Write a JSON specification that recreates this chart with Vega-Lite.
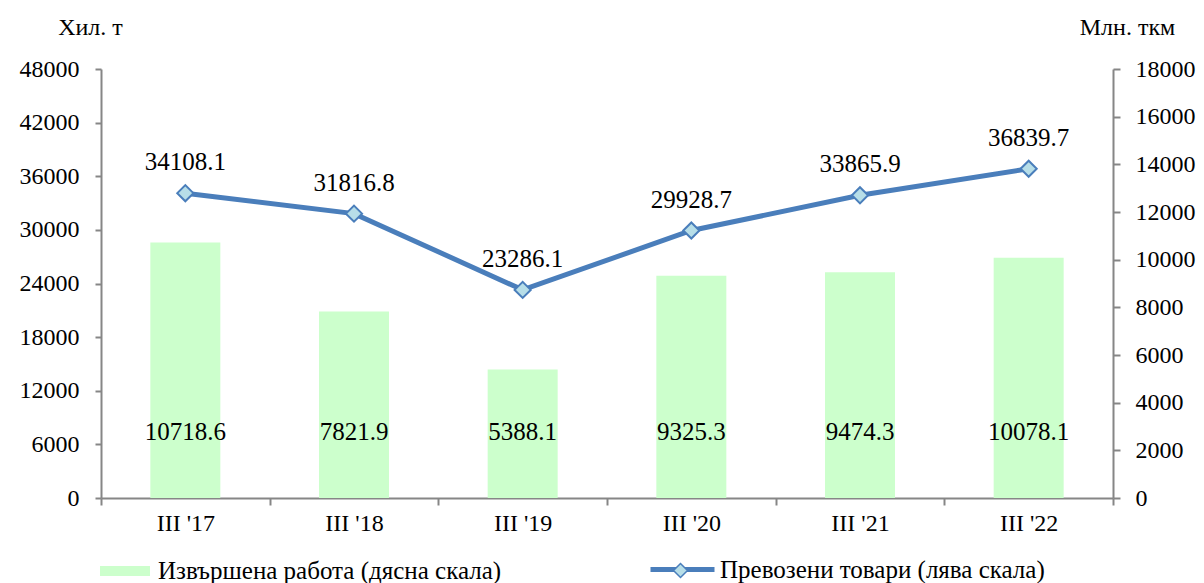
{
  "$schema": "https://vega.github.io/schema/vega-lite/v6.json",
  "autosize": "none",
  "width": 1012,
  "height": 429,
  "padding": {"left": 101, "top": 69, "right": 91, "bottom": 85},
  "background": "white",
  "config": {
    "view": {"stroke": null},
    "font": "Liberation Serif",
    "axis": {
      "labelFont": "Liberation Serif",
      "labelFontSize": 24,
      "labelColor": "black",
      "titleFont": "Liberation Serif",
      "titleFontSize": 24,
      "titleFontWeight": "normal",
      "titleColor": "black",
      "domainColor": "#868686",
      "domainWidth": 2,
      "tickColor": "#868686",
      "tickWidth": 2,
      "grid": false
    },
    "legend": {
      "labelFont": "Liberation Serif",
      "labelFontSize": 25,
      "labelColor": "black",
      "padding": 0,
      "labelLimit": 600
    }
  },
  "data": {
    "values": [
      {"q": "III '17", "goods": 34108.1, "work": 10718.6},
      {"q": "III '18", "goods": 31816.8, "work": 7821.9},
      {"q": "III '19", "goods": 23286.1, "work": 5388.1},
      {"q": "III '20", "goods": 29928.7, "work": 9325.3},
      {"q": "III '21", "goods": 33865.9, "work": 9474.3},
      {"q": "III '22", "goods": 36839.7, "work": 10078.1}
    ]
  },
  "encoding": {
    "x": {
      "field": "q",
      "type": "nominal",
      "sort": null,
      "scale": {"paddingInner": 0, "paddingOuter": 0},
      "axis": {
        "title": null,
        "labelAngle": 0,
        "tickBand": "extent",
        "tickSize": 7,
        "labelPadding": 6
      }
    }
  },
  "layer": [
    {
      "mark": {"type": "bar", "width": {"band": 0.415}},
      "encoding": {
        "y": {
          "field": "work",
          "type": "quantitative",
          "scale": {"domain": [0, 18000], "nice": false},
          "axis": {
            "orient": "right",
            "values": [0, 2000, 4000, 6000, 8000, 10000, 12000, 14000, 16000, 18000],
            "format": "d",
            "tickSize": 7,
            "labelPadding": 15,
            "title": "Млн. ткм",
            "titleAngle": 0,
            "titleAlign": "center",
            "titleBaseline": "middle",
            "titleX": 14,
            "titleY": -42
          }
        },
        "fill": {
          "datum": "Извършена работа (дясна скала)",
          "scale": {"range": ["#CCFFCC"]},
          "legend": {
            "title": null,
            "orient": "none",
            "legendX": -1,
            "legendY": 477,
            "symbolType": "M-1,-0.2H1V0.2H-1Z",
            "symbolSize": 2500,
            "symbolStrokeWidth": 0,
            "labelOffset": 8
          }
        }
      }
    },
    {
      "mark": {"type": "line", "strokeWidth": 5},
      "encoding": {
        "y": {
          "field": "goods",
          "type": "quantitative",
          "scale": {"domain": [0, 48000], "nice": false},
          "axis": {
            "orient": "left",
            "values": [0, 6000, 12000, 18000, 24000, 30000, 36000, 42000, 48000],
            "format": "d",
            "tickSize": 6,
            "labelPadding": 16,
            "title": "Хил. т",
            "titleAngle": 0,
            "titleAlign": "center",
            "titleBaseline": "middle",
            "titleX": -11,
            "titleY": -42
          }
        },
        "stroke": {
          "datum": "Превозени товари (лява скала)",
          "scale": {"range": ["#4A7EBB"]},
          "legend": {
            "title": null,
            "orient": "none",
            "legendX": 547,
            "legendY": 466,
            "symbolType": "stroke",
            "symbolSize": 4096,
            "symbolStrokeWidth": 5,
            "labelOffset": 3
          }
        }
      }
    },
    {
      "mark": {"type": "point", "shape": "diamond", "filled": true, "fill": "#B7DEE8", "stroke": "#4A7EBB", "strokeWidth": 2, "size": 260, "opacity": 1},
      "encoding": {
        "y": {"field": "goods", "type": "quantitative", "scale": {"domain": [0, 48000], "nice": false}, "axis": null},
        "shape": {
          "datum": "marker",
          "scale": {"range": ["diamond"]},
          "legend": {
            "title": null,
            "orient": "none",
            "legendX": 567,
            "legendY": 489,
            "symbolSize": 196,
            "symbolOpacity": 1,
            "labelExpr": "''",
            "encode": {
              "symbols": {
                "update": {
                  "fill": {"value": "#B7DEE8"},
                  "stroke": {"value": "#4A7EBB"},
                  "strokeWidth": {"value": 2},
                  "opacity": {"value": 1}
                }
              }
            }
          }
        }
      }
    },
    {
      "mark": {"type": "text", "fontSize": 25, "font": "Liberation Serif", "color": "black", "baseline": "middle", "dy": -31},
      "encoding": {
        "y": {"field": "goods", "type": "quantitative", "scale": {"domain": [0, 48000], "nice": false}, "axis": null},
        "text": {"field": "goods", "type": "quantitative", "format": ".1f"}
      }
    },
    {
      "mark": {"type": "text", "fontSize": 25, "font": "Liberation Serif", "color": "black", "baseline": "middle"},
      "encoding": {
        "y": {"datum": 2770, "type": "quantitative", "scale": {"domain": [0, 18000], "nice": false}, "axis": null},
        "text": {"field": "work", "type": "quantitative", "format": ".1f"}
      }
    }
  ],
  "resolve": {"scale": {"y": "independent", "fill": "independent", "stroke": "independent", "shape": "independent"}}
}
